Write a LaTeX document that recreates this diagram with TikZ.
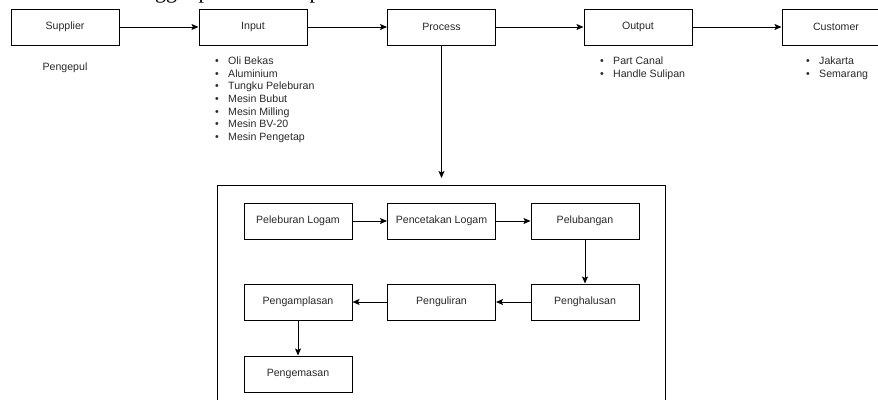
\documentclass[tikz,border=0pt]{standalone}
\usepackage{fontspec}
\setmainfont{Liberation Sans}
\newfontfamily\topserif{Liberation Serif}
\usetikzlibrary{arrows.meta}
\definecolor{txt}{RGB}{40,40,40}
\begin{document}
\begin{tikzpicture}[x=1pt,y=-1pt,
  box/.style={draw=black,line width=1pt,minimum width=108pt,minimum height=36pt,inner sep=0pt,
    font=\fontsize{10.6}{12.7}\selectfont,text=txt},
  frame/.style={draw=black,line width=1pt,anchor=north west,minimum width=448pt,minimum height=240pt,inner sep=0pt},
  arr/.style={draw=black,line width=1pt,-{Stealth[length=7pt,width=6pt,inset=1.5pt]}},
  lbl/.style={font=\fontsize{10.6}{12.7}\selectfont,text=txt,inner sep=0pt},
  item/.style={lbl,anchor=base west},
  frag/.style={font=\fontsize{22}{22}\topserif,text=black,inner sep=0pt,anchor=base west}
]
\useasboundingbox (0,0) rectangle (878,399);
% cut-off serif text at the top edge
\node[frag] (f1) at (155,-1.5) {gg};
\node[frag] (f2) at (198.5,-1.5) {p};
\node[frag] (f3) at (309.5,-1.5) {p};

% top row
\node[box] (sup) at (65,27) {Supplier};
\node[box] (inp) at (253,27) {Input};
\node[box] (pro) at (441.5,27) {Process};
\node[box] (out) at (638,27) {Output};
\node[box] (cus) at (836,27) {Customer};
\draw[arr] (sup) -- (inp);
\draw[arr] (inp) -- (pro);
\draw[arr] (pro) -- (out);
\draw[arr] (out) -- (cus);

% labels under the top row
\node[lbl,anchor=base] (peng) at (65,70.5) {Pengepul};
\foreach \t [count=\i] in {Oli Bekas,Aluminium,Tungku Peleburan,Mesin Bubut,Mesin Milling,Mesin BV-20,Mesin Pengetap}
  \node[item] (in\i) at (215,{64.5+12.67*(\i-1)}) {\makebox[13pt][l]{•}\t};
\foreach \t [count=\i] in {Part Canal,Handle Sulipan}
  \node[item] (ou\i) at (600,{64.5+12.67*(\i-1)}) {\makebox[13pt][l]{•}\t};
\foreach \t [count=\i] in {Jakarta,Semarang}
  \node[item] (cu\i) at (806,{64.5+12.67*(\i-1)}) {\makebox[13pt][l]{•}\t};

% process frame
\node[frame] (fr) at (217,185) {};
\draw[arr,shorten >=7pt] (pro) -- (pro |- fr.north);

\node[box] (p1) at (298,221) {Peleburan Logam};
\node[box] (p2) at (441.5,221) {Pencetakan Logam};
\node[box] (p3) at (585,221) {Pelubangan};
\node[box] (p4) at (585,302) {Penghalusan};
\node[box] (p5) at (441.5,302) {Penguliran};
\node[box] (p6) at (298,302) {Pengamplasan};
\node[box] (p7) at (298,374) {Pengemasan};
\draw[arr] (p1) -- (p2);
\draw[arr] (p2) -- (p3);
\draw[arr] (p3) -- (p4);
\draw[arr] (p4) -- (p5);
\draw[arr] (p5) -- (p6);
\draw[arr] (p6) -- (p7);
\end{tikzpicture}
\end{document}
